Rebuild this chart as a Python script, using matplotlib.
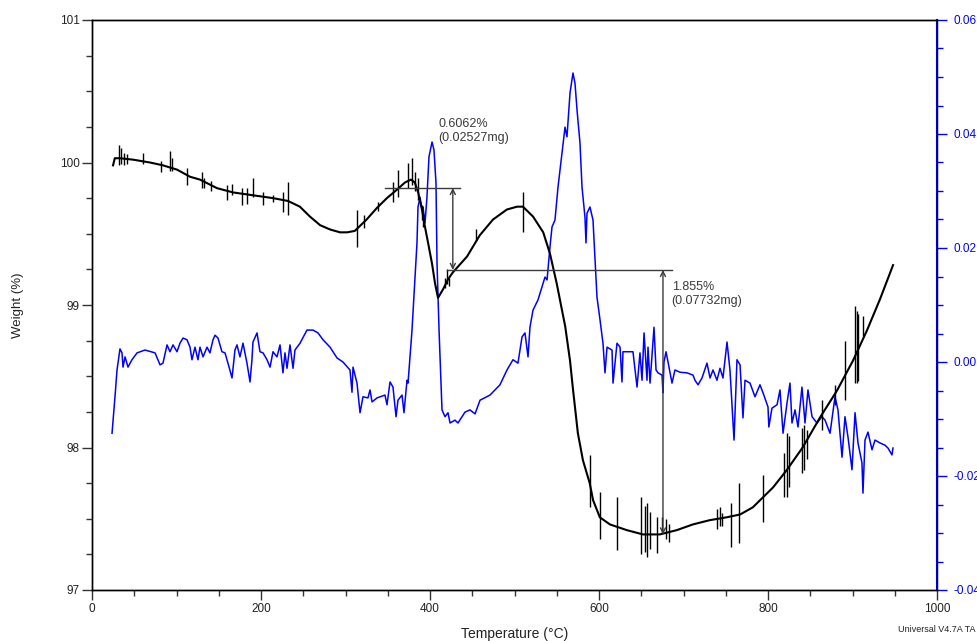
import matplotlib
matplotlib.use("Agg")
import matplotlib.pyplot as plt
from matplotlib.ticker import MultipleLocator

plt.rcParams['font.family'] = ['Liberation Sans', 'DejaVu Sans']

# ---------------- data ----------------
# Weight (%) baseline vs temperature (°C)
w_temp = [24.9, 27, 33, 48.5, 68.6, 84, 100.6, 116, 127.8, 147.9, 166.9, 190.5, 214.2, 232, 246, 258,
          270, 281.7, 293.5, 302, 311, 325, 337, 349, 361, 370.4, 377.5, 382, 386, 390.5, 394, 397.6,
          402.4, 406, 409.5, 415.4, 421.3, 427.2, 443.8, 459, 474.6, 491, 503, 510, 522, 534, 542,
          550, 560, 565.7, 569, 575, 581, 589, 593, 601, 613, 633, 652, 672, 692, 711, 731, 751,
          767, 782, 794, 806, 822, 841, 861.5, 881.7, 900.6, 917, 932.5, 948]
w_val = [99.98, 100.03, 100.03, 100.02, 100.00, 99.98, 99.95, 99.90, 99.88, 99.82, 99.79, 99.77, 99.75,
         99.73, 99.69, 99.62, 99.56, 99.53, 99.51, 99.51, 99.52, 99.60, 99.68, 99.75, 99.81, 99.86,
         99.88, 99.86, 99.79, 99.67, 99.55, 99.44, 99.29, 99.15, 99.05, 99.11, 99.18, 99.23, 99.34,
         99.49, 99.60, 99.67, 99.69, 99.69, 99.62, 99.51, 99.36, 99.15, 98.85, 98.61, 98.42, 98.10,
         97.91, 97.75, 97.63, 97.51, 97.46, 97.42, 97.39, 97.39, 97.42, 97.46, 97.49, 97.51, 97.53,
         97.58, 97.65, 97.72, 97.84, 98.00, 98.21, 98.40, 98.61, 98.82, 99.04, 99.28]

# Noise spikes on the weight trace (temperature, top, bottom)
spike_temp = [32, 34.3, 38, 42, 60, 82, 92.3, 95, 112.4, 130, 133, 141, 160, 166, 178, 183, 190.5, 202,
              214, 226, 232, 313.6, 322, 339, 356, 362, 374, 378.7, 382, 386, 390.5, 392, 417.8, 420,
              422.5, 455, 510, 589, 601, 621, 650, 654, 657, 660, 669, 674, 679, 683, 740, 743, 746,
              756, 766, 794, 819, 822, 825, 840, 843, 846, 864, 879, 891, 903, 905, 907, 912]
spike_hi = [100.12, 100.10, 100.07, 100.06, 100.07, 100.01, 100.08, 100.03, 99.96, 99.93, 99.89, 99.87,
            99.84, 99.85, 99.82, 99.82, 99.89, 99.79, 99.77, 99.79, 99.86, 99.67, 99.63, 99.72, 99.86,
            99.95, 100.00, 100.03, 99.93, 99.89, 99.70, 99.63, 99.19, 99.25, 99.19, 99.53, 99.79,
            97.95, 97.69, 97.65, 97.65, 97.59, 97.61, 97.55, 97.51, 97.51, 97.50, 97.46, 97.57, 97.58,
            97.54, 97.61, 97.75, 97.81, 97.96, 98.10, 98.08, 98.14, 98.16, 98.12, 98.33, 98.44, 98.75,
            98.99, 98.96, 98.94, 98.92]
spike_lo = [99.98, 99.99, 99.98, 99.99, 99.99, 99.93, 99.94, 99.94, 99.84, 99.82, 99.82, 99.80, 99.74,
            99.77, 99.70, 99.71, 99.76, 99.70, 99.72, 99.65, 99.63, 99.41, 99.54, 99.66, 99.72, 99.76,
            99.82, 99.84, 99.80, 99.74, 99.60, 99.55, 99.12, 99.15, 99.13, 99.45, 99.51, 97.58, 97.36,
            97.28, 97.25, 97.27, 97.23, 97.29, 97.26, 97.40, 97.36, 97.34, 97.43, 97.45, 97.45, 97.30,
            97.33, 97.48, 97.65, 97.65, 97.72, 97.82, 97.84, 97.92, 98.12, 98.30, 98.33, 98.45, 98.45,
            98.47, 98.78]

# Derivative weight (%/°C) vs temperature (°C)
d_temp = [23.7, 27.2, 29.6, 33.1, 35.5, 36.7, 39.1, 42.6, 47.3, 53.3, 62.7, 74.6, 80.5, 84.0, 88.8, 92.3,
          95.9, 100.6, 104.1, 107.7, 112.4, 116.0, 118.3, 121.9, 125.4, 127.8, 131.4, 136.1, 139.6,
          143.2, 145.6, 149.1, 153.8, 157.4, 160.9, 165.7, 169.2, 171.6, 175.1, 178.7, 183.4, 187.0,
          189.3, 190.5, 195.3, 198.8, 202.4, 207.1, 210.7, 214.2, 218.9, 222.5, 226.0, 228.4, 230.8,
          234.3, 237.9, 240.2, 246.2, 254.4, 261.5, 267.5, 273.4, 281.7, 290.0, 297.0, 305.3, 307.7,
          308.9, 313.6, 317.2, 320.7, 326.6, 329.0, 331.4, 337.3, 346.7, 349.1, 352.7, 356.2, 359.8,
          362.1, 366.9, 369.2, 372.8, 374.0, 378.7, 384.6, 385.8, 388.2, 390.5, 391.7, 394.1, 396.4,
          398.8, 402.4, 404.7, 407.1, 408.3, 410.7, 414.2, 417.8, 421.3, 423.7, 429.6, 433.1, 441.4,
          447.3, 453.3, 459.2, 471.0, 482.8, 491.1, 498.2, 504.1, 508.9, 512.4, 516.0, 518.3, 521.9,
          527.8, 532.5, 536.1, 538.5, 542.0, 544.4, 547.9, 551.5, 556.2, 559.8, 562.1, 565.7, 569.2,
          571.6, 574.0, 577.5, 579.9, 583.4, 584.6, 585.8, 589.3, 592.9, 595.3, 597.6, 601.2, 604.7,
          607.1, 609.5, 615.4, 616.6, 621.3, 624.9, 627.2, 628.4, 640.2, 645.0, 648.5, 650.9, 653.3,
          656.8, 658.0, 660.4, 665.1, 667.5, 669.8, 674.6, 675.7, 676.9, 679.3, 681.7, 686.4, 689.9,
          695.9, 704.1, 711.2, 713.6, 717.2, 721.9, 727.8, 731.4, 734.9, 739.6, 743.2, 746.7, 751.5,
          755.0, 759.8, 763.3, 766.9, 770.4, 772.8, 778.7, 784.6, 790.5, 794.1, 800.0, 801.0, 804.7,
          810.7, 814.2, 817.8, 822.5, 826.0, 828.4, 832.0, 835.5, 840.2, 843.8, 847.3, 852.1, 858.0,
          863.9, 867.5, 873.4, 879.3, 882.8, 887.6, 891.1, 894.7, 899.4, 903.0, 906.5, 911.2, 912.4,
          914.8, 918.3, 923.1, 926.6, 932.5, 938.5, 942.0, 946.7, 947.9]
d_val = [-0.0125, -0.0061, -0.0014, 0.0023, 0.0016, -0.0009, 0.0009, -0.0009, 0.0004, 0.0016, 0.0021,
         0.0016, -0.0005, -0.0002, 0.0030, 0.0018, 0.0030, 0.0018, 0.0033, 0.0042, 0.0039, 0.0026,
         0.0004, 0.0026, 0.0004, 0.0026, 0.0009, 0.0026, 0.0016, 0.0039, 0.0047, 0.0042, 0.0018,
         0.0016, -0.0002, -0.0028, 0.0021, 0.0030, 0.0009, 0.0033, -0.0002, -0.0035, 0.0004, 0.0035,
         0.0051, 0.0018, 0.0016, 0.0004, -0.0009, 0.0018, 0.0009, 0.0030, -0.0019, 0.0016, -0.0011,
         0.0030, -0.0011, 0.0021, 0.0033, 0.0056, 0.0056, 0.0051, 0.0039, 0.0026, 0.0007, 0.0000,
         -0.0014, -0.0053, -0.0009, -0.0037, -0.0089, -0.0061, -0.0063, -0.0049, -0.0070, -0.0063,
         -0.0058, -0.0075, -0.0035, -0.0044, -0.0096, -0.0067, -0.0058, -0.0089, -0.0032, -0.0037,
         0.0056, 0.0209, 0.0272, 0.0289, 0.0267, 0.0272, 0.0244, 0.0289, 0.0360, 0.0386, 0.0372,
         0.0314, 0.0174, 0.0056, -0.0084, -0.0096, -0.0089, -0.0107, -0.0102, -0.0107, -0.0088,
         -0.0084, -0.0091, -0.0067, -0.0058, -0.0040, -0.0014, 0.0004, -0.0002, 0.0044, 0.0051,
         0.0009, 0.0061, 0.0091, 0.0109, 0.0132, 0.0149, 0.0144, 0.0202, 0.0237, 0.0249, 0.0307,
         0.0367, 0.0412, 0.0395, 0.0472, 0.0507, 0.0489, 0.0442, 0.0384, 0.0307, 0.0254, 0.0209,
         0.0261, 0.0272, 0.0249, 0.0179, 0.0114, 0.0074, 0.0033, -0.0019, 0.0026, 0.0021, -0.0037,
         0.0033, 0.0026, -0.0035, 0.0018, 0.0018, -0.0044, 0.0016, -0.0032, 0.0051, -0.0032, 0.0026,
         -0.0037, 0.0061, -0.0014, -0.0019, -0.0023, -0.0054, 0.0000, 0.0018, 0.0000, -0.0037,
         -0.0014, -0.0018, -0.0019, -0.0023, -0.0032, -0.0040, -0.0028, -0.0002, -0.0028, -0.0014,
         -0.0032, -0.0011, -0.0028, 0.0035, -0.0014, -0.0137, 0.0004, -0.0005, -0.0098, -0.0032,
         -0.0037, -0.0061, -0.0040, -0.0054, -0.0079, -0.0114, -0.0081, -0.0075, -0.0049, -0.0125,
         -0.0072, -0.0037, -0.0107, -0.0084, -0.0114, -0.0044, -0.0107, -0.0049, -0.0096, -0.0107,
         -0.0096, -0.0102, -0.0125, -0.0061, -0.0084, -0.0167, -0.0096, -0.0132, -0.0189, -0.0089,
         -0.0142, -0.0177, -0.0230, -0.0137, -0.0123, -0.0154, -0.0137, -0.0142, -0.0146, -0.0151,
         -0.0163, -0.0151]

# Step annotations
step1_upper = 99.821
step1_lower = 99.246
step1_text = "0.6062%\n(0.02527mg)"
step2_lower = 97.39
step2_text = "1.855%\n(0.07732mg)"

x_ticks = [0, 200, 400, 600, 800, 1000]
y_ticks = [97, 98, 99, 100, 101]
y2_ticks = [-0.04, -0.02, 0.00, 0.02, 0.04, 0.06]
y2_labels = ["-0.04", "-0.02", "0.00", "0.02", "0.04", "0.06"]

# ---------------- figure ----------------
fig = plt.figure(figsize=(9.77, 6.41), dpi=100)
ax = fig.add_axes([92 / 977, 51 / 641, 845 / 977, 570 / 641])
ax2 = ax.twinx()

ax.set_xlim(0, 1000)
ax.set_ylim(97, 101)
ax2.set_ylim(-0.04, 0.06)

blue = "#0000ff"
ann = "#3a3a3a"

ax2.plot(d_temp, d_val, color=blue, lw=1.1, zorder=2)
ax.plot(w_temp, w_val, color="black", lw=1.5, zorder=3)
ax.vlines(spike_temp, spike_lo, spike_hi, color="black", lw=1.0, zorder=3)
ax.set_zorder(ax2.get_zorder() + 1)
ax.patch.set_visible(False)

# annotations
ax.plot([347, 435.5], [step1_upper, step1_upper], color=ann, lw=1.0, zorder=4)
ax.plot([420, 686], [step1_lower, step1_lower], color=ann, lw=1.0, zorder=4)
ax.annotate("", xy=(427, step1_upper), xytext=(427, step1_lower),
            arrowprops=dict(arrowstyle="<->", color=ann, lw=1.0, shrinkA=0, shrinkB=0,
                            mutation_scale=9), zorder=4)
ax.annotate("", xy=(675.7, step1_lower), xytext=(675.7, step2_lower),
            arrowprops=dict(arrowstyle="<->", color=ann, lw=1.0, shrinkA=0, shrinkB=0,
                            mutation_scale=9), zorder=4)
ax.text(409.5, 100.31, step1_text, fontsize=9, color=ann, va="top", ha="left",
        linespacing=1.2)
ax.text(686, 99.17, step2_text, fontsize=9, color=ann, va="top", ha="left",
        linespacing=1.2)

# axes styling
ax.set_xticks(x_ticks)
ax.xaxis.set_minor_locator(MultipleLocator(50))
ax.set_yticks(y_ticks)
ax.yaxis.set_minor_locator(MultipleLocator(0.25))
ax2.set_yticks(y2_ticks)
ax2.set_yticklabels(y2_labels)
ax2.yaxis.set_minor_locator(MultipleLocator(0.005))

for a in (ax, ax2):
    for s in a.spines.values():
        s.set_linewidth(1.0)
ax.tick_params(axis="both", which="major", length=7, width=1, labelsize=8.5, color="#333333",
               labelcolor="#222222", direction="out")
ax.tick_params(axis="y", which="major", pad=2)
ax.tick_params(axis="x", which="major", pad=2)
ax.tick_params(axis="both", which="minor", length=4, width=1, color="#333333", direction="out")
ax2.tick_params(axis="y", which="major", length=7, width=1, labelsize=8.5, colors=blue,
                direction="out", pad=5)
ax2.tick_params(axis="y", which="minor", length=4, width=1, colors=blue, direction="out")
ax2.spines["right"].set_color(blue)
ax2.spines["right"].set_linewidth(1.5)

ax.set_xlabel("Temperature (°C)", fontsize=10, color="#222222", labelpad=9)
ax.set_ylabel("Weight (%)", fontsize=9.5, color="#222222", labelpad=26)

fig.text(975 / 977, 11 / 641, "Universal V4.7A TA", fontsize=6.5, ha="right", va="center",
         color="#222222")

fig.savefig("out.png", dpi=100)
